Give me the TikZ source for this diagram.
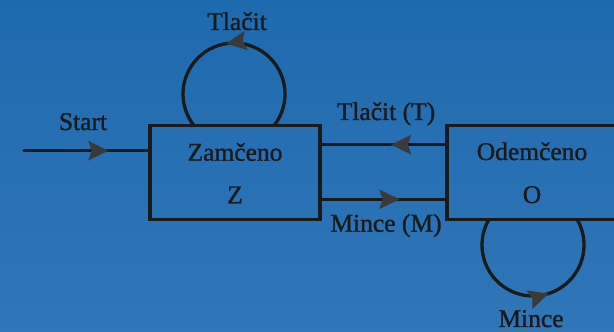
\documentclass[tikz,border=0pt]{standalone}
\usepackage{fontspec}
\setmainfont{Liberation Serif}[BoldFont=Liberation Serif, BoldFeatures={FakeBold=1.2}]
\usetikzlibrary{arrows.meta,decorations.markings}
\definecolor{bgtop}{RGB}{30,106,174}
\definecolor{bgbot}{RGB}{48,118,184}
\definecolor{ink}{RGB}{26,26,26}
\definecolor{tipc}{RGB}{58,58,58}
\tikzset{
  txt/.style={font=\fontsize{25.5}{30}\selectfont\bfseries, text=ink, inner sep=0pt, anchor=base},
  statebox/.style={draw=ink, line width=3.3pt, minimum width=170pt, minimum height=94pt, inner sep=0pt},
  conn/.style={draw=ink, line width=3.3pt},
  midtip/.style={postaction={decorate}, decoration={markings,
    mark=at position #1 with {\arrow[tipc]{Stealth[length=20pt,width=19pt,inset=3pt]}}}}
}
\begin{document}
\begin{tikzpicture}[x=1pt,y=1pt]
\useasboundingbox (0,0) rectangle (614,332);
\clip (0,0) rectangle (614,332);
\shade[top color=bgtop, bottom color=bgbot] (0,0) rectangle (614,332);
% boxes
\node[statebox] (zam) at (235,159.15) {};
\node[statebox] (ode) at (532,159.15) {};
% box texts
\node[txt] (zamt) at (235,171.3) {Zamčeno};
\node[txt] (zaml) at (235,128.7) {Z};
\node[txt] (odet) at (532,172) {Odemčeno};
\node[txt] (odel) at (532,129) {O};
% start
\coordinate (s0) at (24,181.3);
\draw[conn, line cap=round, midtip=0.68] (s0) -- (s0 -| zam.west);
% transitions
\coordinate (t0) at (0,187.3);
\coordinate (m0) at (0,132.7);
\draw[conn, midtip=0.44] (t0 -| ode.west) -- (t0 -| zam.east);
\draw[conn, midtip=0.63] (m0 -| zam.east) -- (m0 -| ode.west);
% self loops
\coordinate (c1) at (234,238);
\coordinate (c2) at (533,87);
\draw[conn, midtip=0.535] ([shift={(-38.4:51)}]c1) arc[start angle=-38.4, end angle=218.4, radius=51];
\draw[conn, midtip=0.575] ([shift={(150.6:51)}]c2) arc[start angle=150.6, end angle=389.4, radius=51];
% labels
\node[txt] (lstart) at (83,202) {Start};
\node[txt] (ltl) at (237,302) {Tlačit};
\node[txt] (lt) at (386,212) {Tlačit (T)};
\node[txt] (lm) at (386,100.3) {Mince (M)};
\node[txt] (lmin) at (531,5) {Mince};
\end{tikzpicture}
\end{document}
